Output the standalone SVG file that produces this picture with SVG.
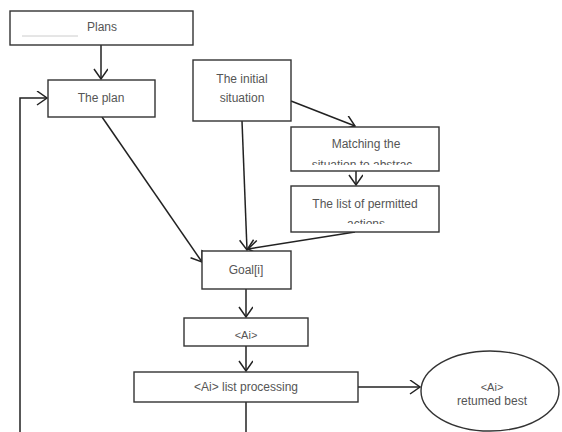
<svg xmlns="http://www.w3.org/2000/svg" width="562" height="432" viewBox="0 0 562 432">
<style>
.box{fill:#fff;stroke:#333;stroke-width:1.4}
.t{font-family:"Liberation Sans",Arial,sans-serif;font-size:12px;fill:#555;text-anchor:middle}
.c{fill:none;stroke:#222;stroke-width:1.5}
</style>
<defs>
<marker id="ah" markerUnits="userSpaceOnUse" markerWidth="14" markerHeight="16" refX="11" refY="7" orient="auto">
<path d="M1,0 L11,7 L1,14" fill="none" stroke="#222" stroke-width="1.5"/>
</marker>
<clipPath id="cm"><rect x="291" y="127" width="148" height="38"/></clipPath>
<clipPath id="cl"><rect x="291" y="186" width="148" height="38"/></clipPath>
</defs>
<rect width="562" height="432" fill="#fff"/>
<g id="connectors">
<line class="c" x1="101" y1="45" x2="101" y2="79" marker-end="url(#ah)"/>
<polyline class="c" points="20,432 20,98 47,98" marker-end="url(#ah)"/>
<line class="c" x1="102" y1="117" x2="202" y2="262" marker-end="url(#ah)"/>
<line class="c" x1="242" y1="121" x2="247" y2="250" marker-end="url(#ah)"/>
<line class="c" x1="291" y1="101" x2="355" y2="126" marker-end="url(#ah)"/>
<line class="c" x1="356" y1="171" x2="356" y2="185" marker-end="url(#ah)"/>
<line class="c" x1="355" y1="232" x2="248" y2="249" marker-end="url(#ah)"/>
<line class="c" x1="246" y1="289" x2="246" y2="317" marker-end="url(#ah)"/>
<line class="c" x1="246" y1="346" x2="246" y2="371" marker-end="url(#ah)"/>
<line class="c" x1="358" y1="387" x2="420" y2="387" marker-end="url(#ah)"/>
<line class="c" x1="246" y1="402" x2="246" y2="432"/>
</g>
<g id="plans">
<rect class="box" x="10" y="11" width="183" height="34"/>
<line x1="22" y1="36" x2="78" y2="36" stroke="#ccc" stroke-width="1"/>
<text class="t" x="102" y="31">Plans</text>
</g>
<g id="the-plan">
<rect class="box" x="48" y="80" width="107" height="37"/>
<text class="t" x="101" y="102">The plan</text>
</g>
<g id="initial">
<rect class="box" x="193" y="60" width="98" height="61"/>
<text class="t" x="242" y="83">The initial</text>
<text class="t" x="242" y="102">situation</text>
</g>
<g id="matching">
<rect class="box" x="291" y="127" width="148" height="44"/>
<text class="t" x="366" y="148">Matching the</text>
<text class="t" x="362" y="169" clip-path="url(#cm)">situation to abstrac</text>
</g>
<g id="list">
<rect class="box" x="291" y="186" width="148" height="46"/>
<text class="t" x="365" y="208">The list of permitted</text>
<text class="t" x="366" y="228" clip-path="url(#cl)">actions</text>
</g>
<g id="goal">
<rect class="box" x="202" y="251" width="89" height="38"/>
<text class="t" x="246" y="274">Goal[i]</text>
</g>
<g id="ai">
<rect class="box" x="184" y="318" width="124" height="28"/>
<text class="t" x="246" y="339" style="font-size:11px">&lt;Ai&gt;</text>
</g>
<g id="list-processing">
<rect class="box" x="134" y="372" width="224" height="30"/>
<text class="t" x="246" y="391">&lt;Ai&gt; list processing</text>
</g>
<g id="best">
<ellipse class="box" cx="490" cy="391" rx="69" ry="40"/>
<text class="t" x="492" y="391" style="font-size:11px">&lt;Ai&gt;</text>
<text class="t" x="492" y="405">retumed best</text>
</g>
</svg>
